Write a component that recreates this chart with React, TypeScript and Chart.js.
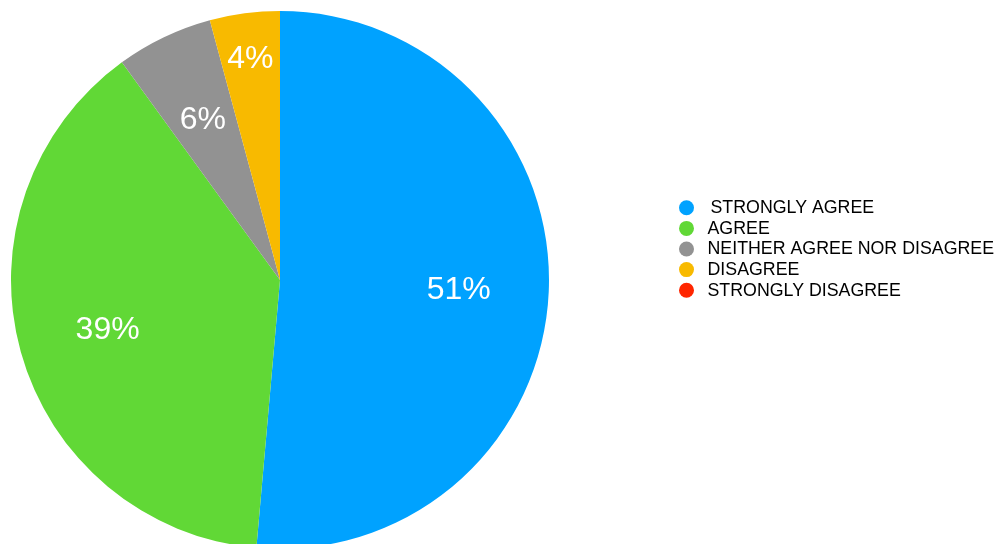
import React, { useEffect, useRef } from "react";
import { Chart, registerables } from "chart.js";

Chart.register(...registerables);

const categories = [
  "STRONGLY AGREE",
  "AGREE",
  "NEITHER AGREE NOR DISAGREE",
  "DISAGREE",
  "STRONGLY DISAGREE",
];
const values = [51.4, 38.6, 5.8, 4.2, 0];
const colors = ["#00A2FF", "#61D836", "#929292", "#F8BA00", "#FF2600"];

const FONT = "'Liberation Sans', Arial, Helvetica, sans-serif";

const labelPlugin = {
  id: "sliceLabels",
  afterDatasetsDraw(chart: any) {
    const ctx = chart.ctx;
    const meta = chart.getDatasetMeta(0);
    const total = values.reduce((a, b) => a + b, 0);
    ctx.save();
    ctx.fillStyle = "#ffffff";
    ctx.font = `32px ${FONT}`;
    ctx.textAlign = "center";
    ctx.textBaseline = "middle";
    meta.data.forEach((arc: any, i: number) => {
      const v = values[i];
      if (!v) return;
      const { x, y, startAngle, endAngle, outerRadius } = arc.getProps(
        ["x", "y", "startAngle", "endAngle", "outerRadius"],
        true
      );
      const mid = (startAngle + endAngle) / 2;
      const frac = v / total;
      const rf = frac < 0.05 ? 0.835 : 0.665;
      const r = outerRadius * rf;
      const pct = Math.round(frac * 100);
      ctx.fillText(`${pct}%`, x + Math.cos(mid) * r, y + Math.sin(mid) * r + 2);
    });
    ctx.restore();
  },
};

const legendPlugin = {
  id: "customLegend",
  afterDraw(chart: any) {
    const ctx = chart.ctx;
    const x0 = 686.5;
    const y0 = 207.8;
    const step = 20.6;
    ctx.save();
    ctx.font = `17.8px ${FONT}`;
    ctx.textBaseline = "middle";
    ctx.textAlign = "left";
    categories.forEach((c, i) => {
      const y = y0 + i * step;
      ctx.beginPath();
      ctx.arc(x0, y, 7.5, 0, Math.PI * 2);
      ctx.fillStyle = colors[i];
      ctx.fill();
      ctx.fillStyle = "#000000";
      ctx.fillText(c, i === 0 ? 710.5 : 707.5, y + 0.5);
    });
    ctx.restore();
  },
};

export default function App() {
  const ref = useRef<HTMLCanvasElement | null>(null);
  useEffect(() => {
    document.body.style.margin = "0";
    document.body.style.overflow = "hidden";
    const canvas = ref.current;
    if (!canvas) return;
    const chart = new Chart(canvas, {
      type: "pie",
      data: {
        labels: categories,
        datasets: [
          {
            data: values,
            backgroundColor: colors,
            borderWidth: 0,
          },
        ],
      },
      options: {
        animation: false,
        responsive: false,
        maintainAspectRatio: false,
        layout: { padding: { left: 11, right: 449, top: 11, bottom: 11 } },
        plugins: {
          legend: { display: false },
          tooltip: { enabled: false },
        },
      },
      plugins: [labelPlugin, legendPlugin],
    });
    return () => chart.destroy();
  }, []);
  return (
    <div style={{ width: 998, height: 544, overflow: "hidden", background: "#fff" }}>
      <canvas ref={ref} width={998} height={560} style={{ display: "block" }} />
    </div>
  );
}
